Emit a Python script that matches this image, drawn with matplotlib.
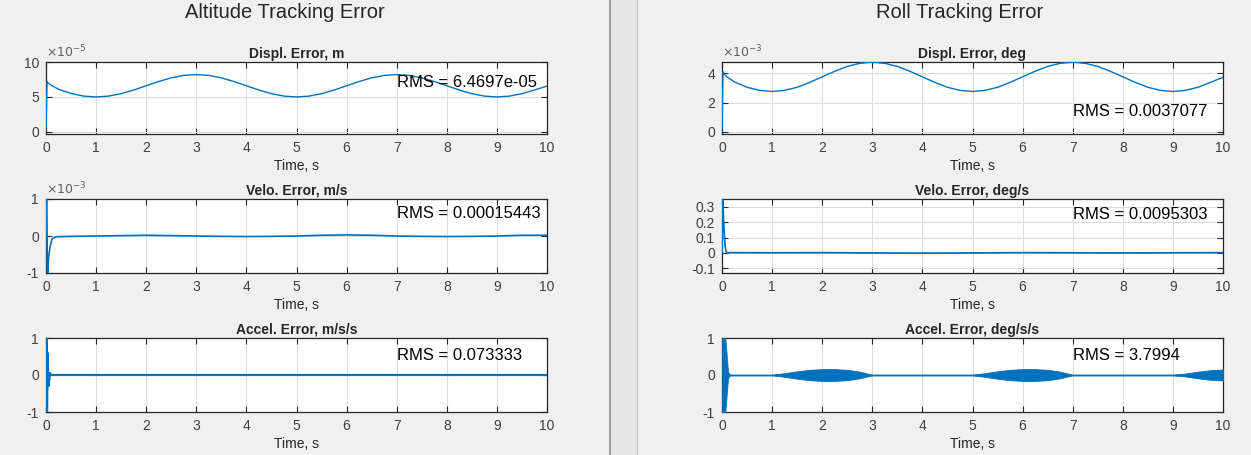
import matplotlib.pyplot as plt
import numpy as np

plt.rcParams['font.family'] = ['Liberation Sans', 'DejaVu Sans']
plt.rcParams['axes.unicode_minus'] = False

BLUE = '#0072BD'
AXC = '#262626'

# ---- Altitude ----
# displacement error, x1e-5 m
t_alt_d = [0, 0.02, 0.04, 0.1, 0.25, 0.5, 0.75, 1, 1.25, 1.5, 1.75, 2, 2.25, 2.5, 2.75, 3,
           3.25, 3.5, 3.75, 4, 4.25, 4.5, 4.75, 5, 5.25, 5.5, 5.75, 6, 6.25, 6.5, 6.75, 7,
           7.25, 7.5, 7.75, 8, 8.25, 8.5, 8.75, 9, 9.25, 9.5, 9.75, 10]
alt_d = [0, 7.2, 7.0, 6.7, 6.1, 5.5, 5.12, 5.0, 5.12, 5.47, 5.99, 6.6, 7.21, 7.73, 8.08, 8.2,
         8.08, 7.73, 7.21, 6.6, 5.99, 5.47, 5.12, 5.0, 5.12, 5.47, 5.99, 6.6, 7.21, 7.73, 8.08, 8.2,
         8.08, 7.73, 7.21, 6.6, 5.99, 5.47, 5.12, 5.0, 5.12, 5.47, 5.99, 6.55]
alt_d_rms = 6.4697e-05

# velocity error, x1e-3 m/s
t_alt_v = [0, 0.01, 0.02, 0.03, 0.05, 0.08, 0.12, 0.2, 0.5, 1, 1.5, 2, 2.5, 3, 3.5, 4, 4.5, 5,
           5.5, 6, 6.5, 7, 7.5, 8, 8.5, 9, 9.5, 10]
alt_v = [0, 1.3, 0.2, -1.3, -0.6, -0.3, -0.08, -0.02, -0.01, 0.0, 0.01, 0.02, 0.01, 0.0,
         -0.01, -0.015, -0.01, 0.0, 0.02, 0.03, 0.02, 0.0, -0.01, -0.015, -0.01, 0.0, 0.02, 0.02]
alt_v_rms = 0.00015443

# acceleration error, m/s/s
t_alt_a = [0, 0.01, 0.02, 0.03, 0.05, 0.08, 0.1, 1, 2, 3, 4, 5, 6, 7, 8, 9, 10]
alt_a = [0, 1.5, -1.5, 0.6, -0.3, 0.05, 0.0, 0.0, 0.0, 0.0, 0.0, 0.0, 0.0, 0.0, 0.0, 0.0, 0.0]
alt_a_rms = 0.073333

# ---- Roll ----
# displacement error, x1e-3 deg
t_roll_d = t_alt_d
roll_d = [0, 4.1, 3.95, 3.75, 3.4, 3.04, 2.83, 2.75, 2.83, 3.04, 3.37, 3.75, 4.13, 4.46, 4.67, 4.75,
          4.67, 4.46, 4.13, 3.75, 3.37, 3.04, 2.83, 2.75, 2.83, 3.04, 3.37, 3.75, 4.13, 4.46, 4.67, 4.75,
          4.67, 4.46, 4.13, 3.75, 3.37, 3.04, 2.83, 2.75, 2.83, 3.04, 3.37, 3.72]
roll_d_rms = 0.0037077

# velocity error, deg/s
t_roll_v = [0, 0.01, 0.02, 0.04, 0.06, 0.08, 0.1, 0.15, 1, 2, 3, 4, 5, 6, 7, 8, 9, 10]
roll_v = [0, 0.35, 0.3, 0.15, 0.05, 0.01, 0.0, 0.002, 0.001, 0.002, 0.0, -0.001, 0.0, 0.002,
          0.001, 0.0, 0.001, 0.002]
roll_v_rms = 0.0095303

# acceleration error envelope, deg/s/s
t_roll_a = [0, 0.06, 0.09, 0.12, 0.16, 1.0, 1.25, 1.5, 1.75, 2.0, 2.25, 2.5, 2.75, 2.9, 3.0,
            5.0, 5.25, 5.5, 5.75, 6.0, 6.25, 6.5, 6.75, 6.9, 7.0,
            9.0, 9.25, 9.5, 9.75, 10]
roll_a_env = [1.1, 1.1, 0.6, 0.08, 0.01, 0.01, 0.05, 0.1, 0.14, 0.16, 0.16, 0.14, 0.09, 0.04, 0.01,
              0.01, 0.05, 0.1, 0.14, 0.16, 0.16, 0.14, 0.09, 0.04, 0.01,
              0.01, 0.04, 0.09, 0.13, 0.15]
roll_a_rms = 3.7994

xticks = list(range(11))

fig = plt.figure(figsize=(12.51, 4.55), dpi=100, facecolor='#F0F0F0')

# panel divider
fig.patches.append(plt.Rectangle((610 / 1251, 0), 27 / 1251, 1, transform=fig.transFigure,
                                 facecolor='#E6E6E6', edgecolor='none'))
fig.add_artist(plt.Line2D([610 / 1251] * 2, [0, 1], color='#8C8C8C', lw=1.2))
fig.add_artist(plt.Line2D([637 / 1251] * 2, [0, 1], color='#C8C8C8', lw=1.0))

fig.text(285 / 1251, 1 - 13 / 455, 'Altitude Tracking Error', ha='center', va='center',
         fontsize=14.5, color=AXC)
fig.text(960 / 1251, 1 - 13 / 455, 'Roll Tracking Error', ha='center', va='center',
         fontsize=14.5, color=AXC)

W, H = 1251, 455
rows = [(62, 134), (199, 273), (338, 412)]


def make_ax(x0, row):
    top, bot = rows[row]
    ax = fig.add_axes([x0 / W, 1 - bot / H, 501 / W, (bot - top) / H])
    ax.set_facecolor('white')
    ax.set_xlim(0, 10)
    ax.set_xticks(xticks)
    ax.grid(True, color='#DCDCDC', lw=0.8)
    ax.set_axisbelow(True)
    ax.tick_params(direction='in', top=True, right=True, length=4, labelsize=10,
                   colors=AXC, labelcolor='#404040', pad=5)
    for s in ax.spines.values():
        s.set_color(AXC)
        s.set_linewidth(0.9)
    ax.set_xlabel('Time, s', fontsize=10, color=AXC, labelpad=3)
    return ax


def rms_text(ax, y, val):
    ax.text(7.0, y, 'RMS = %s' % val, ha='left', va='center', fontsize=12, color='black')


def title(ax, s):
    ax.set_title(s, fontsize=10, fontweight='bold', color=AXC, pad=3)


def exp_label(ax, s):
    ax.text(0, 1.02, r'$\times10^{%s}$' % s, transform=ax.transAxes, fontsize=9,
            color='#606060', ha='left', va='bottom')


# altitude displacement
ax = make_ax(46, 0)
ax.plot(t_alt_d, alt_d, color=BLUE, lw=1.0, zorder=3)
ax.set_ylim(-0.3, 10)
ax.set_yticks([0, 5, 10])
title(ax, 'Displ. Error, m')
exp_label(ax, '-5')
rms_text(ax, 7.1, '%.4e' % alt_d_rms)

# altitude velocity
ax = make_ax(46, 1)
ax.plot(t_alt_v, alt_v, color=BLUE, lw=1.2, zorder=3)
ax.set_ylim(-1, 1)
ax.set_yticks([-1, 0, 1])
title(ax, 'Velo. Error, m/s')
exp_label(ax, '-3')
rms_text(ax, 0.61, '%.5g' % alt_v_rms)

# altitude acceleration
ax = make_ax(46, 2)
ax.plot(t_alt_a, alt_a, color=BLUE, lw=1.6, zorder=3)
ax.set_ylim(-1, 1)
ax.set_yticks([-1, 0, 1])
title(ax, 'Accel. Error, m/s/s')
rms_text(ax, 0.52, '%.5g' % alt_a_rms)

# roll displacement
ax = make_ax(722, 0)
ax.plot(t_roll_d, roll_d, color=BLUE, lw=1.0, zorder=3)
ax.set_ylim(-0.14, 4.76)
ax.set_yticks([0, 2, 4])
title(ax, 'Displ. Error, deg')
exp_label(ax, '-3')
rms_text(ax, 1.38, '%.5g' % roll_d_rms)

# roll velocity
ax = make_ax(722, 1)
ax.plot(t_roll_v, roll_v, color=BLUE, lw=1.3, zorder=3)
ax.set_ylim(-0.13, 0.35)
ax.set_yticks([-0.1, 0, 0.1, 0.2, 0.3])
ax.set_yticklabels(['-0.1', '0', '0.1', '0.2', '0.3'])
title(ax, 'Velo. Error, deg/s')
rms_text(ax, 0.25, '%.5g' % roll_v_rms)

# roll acceleration (oscillation envelope)
ax = make_ax(722, 2)
env = np.array(roll_a_env)
ax.fill_between(t_roll_a, -env, env, color=BLUE, lw=0.6, edgecolor=BLUE, zorder=3)
ax.plot(t_roll_a, [0] * len(t_roll_a), color=BLUE, lw=1.0, zorder=3)
ax.set_ylim(-1, 1)
ax.set_yticks([-1, 0, 1])
title(ax, 'Accel. Error, deg/s/s')
rms_text(ax, 0.52, '%.5g' % roll_a_rms)

fig.savefig('out.png', dpi=100, facecolor=fig.get_facecolor())
